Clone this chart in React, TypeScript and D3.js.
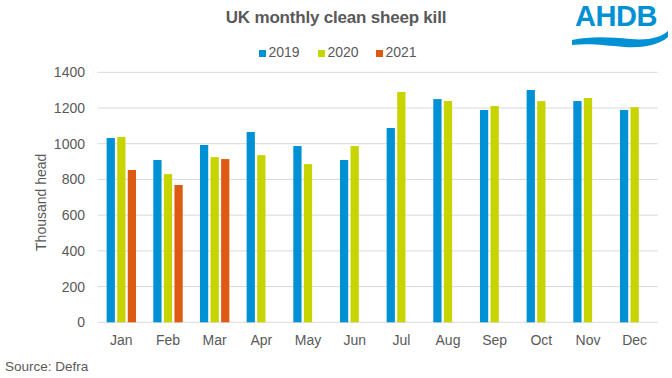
import React from "react";
import * as d3 from "d3";

const months = ["Jan", "Feb", "Mar", "Apr", "May", "Jun", "Jul", "Aug", "Sep", "Oct", "Nov", "Dec"];
const seriesNames = ["2019", "2020", "2021"];
const values2019 = [1032, 909, 993, 1066, 987, 909, 1088, 1250, 1189, 1301, 1239, 1189];
const values2020 = [1038, 830, 925, 936, 886, 987, 1290, 1239, 1211, 1239, 1256, 1205];
const values2021: (number | null)[] = [853, 769, 914, null, null, null, null, null, null, null, null, null];
const yTicks = [0, 200, 400, 600, 800, 1000, 1200, 1400];
const colors = ["#0091D5", "#C8D400", "#DD5A13"];

const W = 672, H = 378;
const left = 98, right = 658, top = 72.3, bottom = 322.3;
const font = "'Liberation Sans', Arial, sans-serif";
const textColor = "#595959";

export default function App() {
  const x = d3.scaleBand<string>().domain(months).range([left, right]).paddingInner(0.37).paddingOuter(0.185);
  const x1 = d3.scaleBand<string>().domain(seriesNames).range([0, x.bandwidth()]).paddingInner(0.22);
  const y = d3.scaleLinear().domain([0, 1400]).range([bottom, top]);
  const all = [values2019, values2020, values2021];

  return (
    <svg width={W} height={H} style={{ position: "absolute", left: 0, top: 0, background: "#fff" }} fontFamily={font}>
      <rect width={W} height={H} fill="#fff" />
      <text x={336} y={23} textAnchor="middle" fontSize={17} fontWeight="bold" fill={textColor} letterSpacing={-0.2}>UK monthly clean sheep kill</text>
      {seriesNames.map((s, i) => {
        const lx = [259, 318, 376][i];
        return (
          <g key={s}>
            <rect x={lx} y={50} width={7} height={7} fill={colors[i]} />
            <text x={lx + 9.5} y={57} fontSize={14} fill={textColor}>{s}</text>
          </g>
        );
      })}
      {yTicks.map(t => (
        <g key={t}>
          <line x1={left} x2={right} y1={y(t)} y2={y(t)} stroke="#D9D9D9" strokeWidth={1} />
          <text x={85} y={y(t) + 5} textAnchor="end" fontSize={14} fill={textColor}>{t}</text>
        </g>
      ))}
      <text transform={`translate(46,${(top + bottom) / 2 + 5}) rotate(-90)`} textAnchor="middle" fontSize={14} fill={textColor}>Thousand head</text>
      {months.map((m, mi) => (
        <g key={m}>
          {all.map((vals, si) => {
            const v = vals[mi];
            if (v == null) return null;
            return (
              <rect key={si}
                x={(x(m) as number) + (x1(seriesNames[si]) as number)}
                y={y(v)} width={x1.bandwidth()} height={y(0) - y(v)} fill={colors[si]} />
            );
          })}
          <text x={(x(m) as number) + x.bandwidth() / 2} y={345} textAnchor="middle" fontSize={14} fill={textColor}>{m}</text>
        </g>
      ))}
      <text x={5} y={371} fontSize={13.5} fill={textColor}>Source: Defra</text>
      <g>
        <text x={616} y={26} textAnchor="middle" fontSize={29} fontWeight="bold" fill="#0091D5" letterSpacing={-0.5}>AHDB</text>
        <path d="M572,40 C590,36 610,37 630,39 C648,40.5 660,38 668,31 L668,37 C658,46 640,48 625,47 C605,45.5 590,43 572,45 Z" fill="#0091D5" />
      </g>
    </svg>
  );
}
